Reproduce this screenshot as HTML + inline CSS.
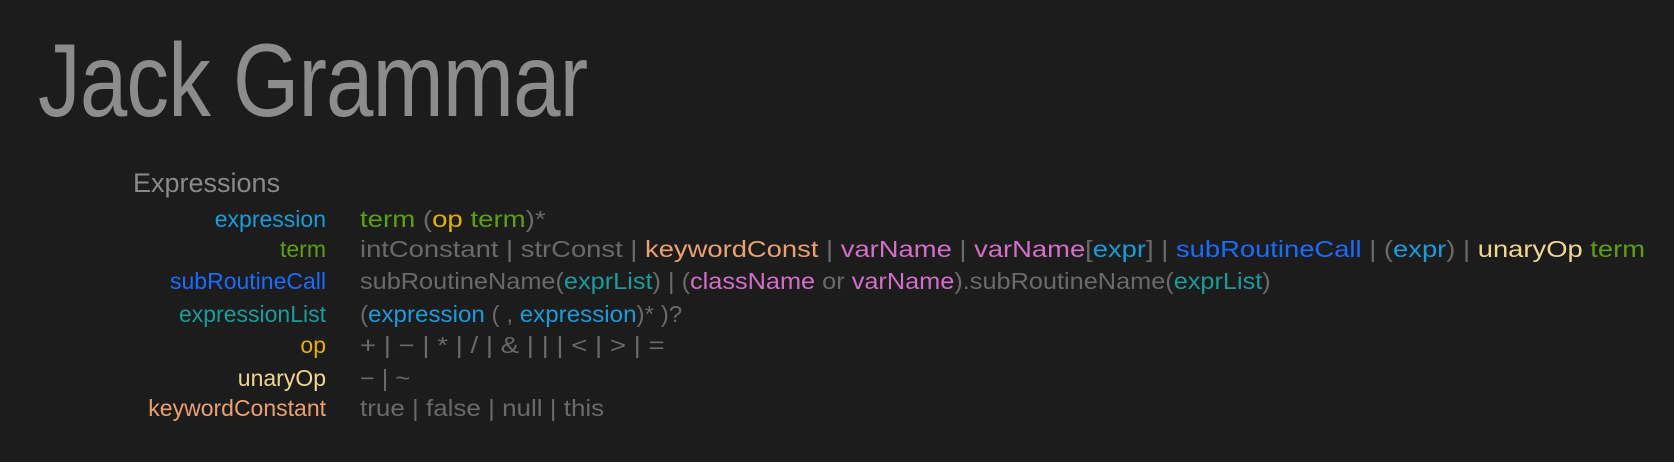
<!DOCTYPE html>
<html><head><style>
body{margin:0;background:#1c1c1c;width:1674px;height:462px;overflow:hidden;font-family:"Liberation Sans",sans-serif;position:relative}
.t{position:absolute;left:38px;top:22px;font-size:104px;color:#8c8c8c;letter-spacing:-1px;transform:scaleX(0.82);transform-origin:0 0}
.h{position:absolute;left:133px;top:168px;font-size:27px;color:#8a8a8a}
.l{position:absolute;right:1348px;font-size:23px;white-space:nowrap}
.r{position:absolute;left:360px;font-size:23px;white-space:nowrap;color:#6a6a6a;transform-origin:0 0}
.g{color:#6a6a6a}.ex{color:#1a9bdc}.tm{color:#5e9e12}.sc{color:#1a6cff}.el{color:#1a9c9c}.op{color:#e2b000}.un{color:#f0d68e}.kc{color:#eca070}.vn{color:#d46ec8}
</style></head><body>
<div class="t">Jack Grammar</div>
<div class="h">Expressions</div>
<div class="l ex" style="top:206px">expression</div>
<div class="l tm" style="top:236px">term</div>
<div class="l sc" style="top:268px">subRoutineCall</div>
<div class="l el" style="top:301px">expressionList</div>
<div class="l op" style="top:332px">op</div>
<div class="l un" style="top:365px">unaryOp</div>
<div class="l kc" style="top:395px">keywordConstant</div>
<div class="r" style="top:206px;transform:scaleX(1.2)"><span class="tm">term</span> (<span class="op">op</span> <span class="tm">term</span>)*</div>
<div class="r" style="top:236px;transform:scaleX(1.19)">intConstant | strConst | <span class="kc">keywordConst</span> | <span class="vn">varName</span> | <span class="vn">varName</span>[<span class="ex">expr</span>] | <span class="sc">subRoutineCall</span> | (<span class="ex">expr</span>) | <span class="un">unaryOp</span> <span class="tm">term</span></div>
<div class="r" style="top:268px;transform:scaleX(1.1)">subRoutineName(<span class="el">exprList</span>) | (<span class="vn">className</span> or <span class="vn">varName</span>).subRoutineName(<span class="el">exprList</span>)</div>
<div class="r" style="top:301px;transform:scaleX(1.05)">(<span class="ex">expression</span> ( , <span class="ex">expression</span>)* )?</div>
<div class="r" style="top:332px;transform:scaleX(1.2)">+ | − | * | / | &amp; | | | &lt; | &gt; | =</div>
<div class="r" style="top:365px;transform:scaleX(1.1)">− | ~</div>
<div class="r" style="top:395px;transform:scaleX(1.13)">true | false | null | this</div>
</body></html>
